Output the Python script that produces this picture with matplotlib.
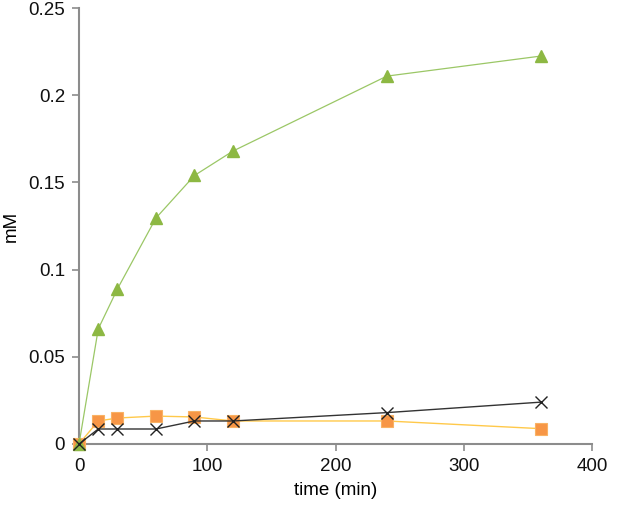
import matplotlib
matplotlib.use("Agg")
import matplotlib.pyplot as plt

plt.rcParams['font.family'] = ['Liberation Sans', 'DejaVu Sans']

time = [0, 15, 30, 60, 90, 120, 240, 360]
green = [0, 0.066, 0.089, 0.1296, 0.154, 0.168, 0.211, 0.2225]
orange = [0, 0.0132, 0.0149, 0.016, 0.0155, 0.0132, 0.0132, 0.0088]
black = [0, 0.0086, 0.0086, 0.0086, 0.0132, 0.0132, 0.018, 0.024]

xticks = [0, 100, 200, 300, 400]
yticks = [0, 0.05, 0.1, 0.15, 0.2, 0.25]
yticklabels = ['0', '0.05', '0.1', '0.15', '0.2', '0.25']

fig = plt.figure(figsize=(6.44, 5.08), dpi=100)
ax = fig.add_axes([0.1227, 0.126, 0.7966, 0.858])

ax.plot(time, orange, color='#FFC94A', lw=1.0, marker='s', ms=8,
        mfc='#F79646', mec='#F9B264', mew=0.8, zorder=3, clip_on=False)
ax.plot(time, green, color='#9BC766', lw=0.9, marker='^', ms=9,
        mfc='#8DB843', mec='#8DB843', zorder=4, clip_on=False)
ax.plot(time, black, color='#333333', lw=1.0, marker='x', ms=8,
        mec='#222222', mew=1.0, zorder=5, clip_on=False)

ax.set_xlim(0, 400)
ax.set_ylim(0, 0.25)
ax.set_xticks(xticks)
ax.set_yticks(yticks)
ax.set_yticklabels(yticklabels)
for s in ['top', 'right']:
    ax.spines[s].set_visible(False)
for s in ['left', 'bottom']:
    ax.spines[s].set_color('#8C8C8C')
    ax.spines[s].set_linewidth(1.5)
ax.tick_params(axis='both', direction='out', length=5, width=1.2,
               color='#8C8C8C', labelsize=13.5, labelcolor='#111111', pad=5)
ax.set_xlabel('time (min)', fontsize=13.5, labelpad=5)
ax.set_ylabel('mM', fontsize=13.5, labelpad=6)

fig.savefig('out.png', dpi=100)
